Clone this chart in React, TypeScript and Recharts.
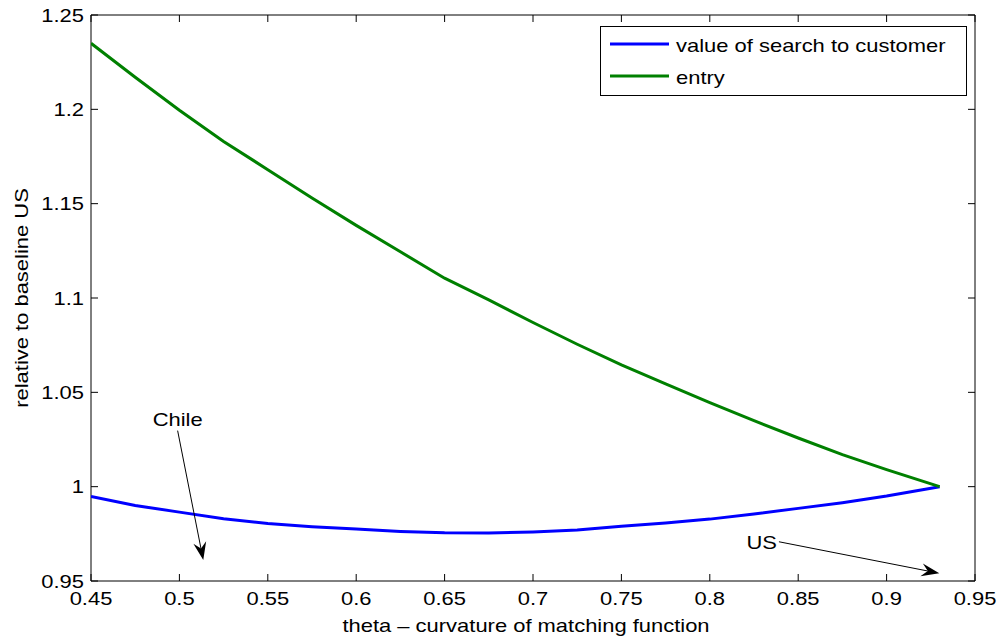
import React from "react";
import {
  LineChart,
  Line,
  XAxis,
  YAxis,
  ReferenceArea,
  ReferenceLine,
  Legend,
} from "recharts";

// theta grid and the two series, relative to the US baseline
const theta = [
  0.45, 0.475, 0.5, 0.525, 0.55, 0.575, 0.6, 0.625, 0.65, 0.675, 0.7, 0.725,
  0.75, 0.775, 0.8, 0.825, 0.85, 0.875, 0.9, 0.93,
];
const searchValue = [
  0.9948, 0.99, 0.9865, 0.983, 0.9805, 0.9788, 0.9775, 0.9763, 0.9756, 0.9755,
  0.976, 0.977, 0.979, 0.9808, 0.9828, 0.9855, 0.9885, 0.9915, 0.995, 1.0,
];
const entryValue = [
  1.235, 1.217, 1.1995, 1.183, 1.168, 1.153, 1.1385, 1.1245, 1.1105, 1.099,
  1.087, 1.0755, 1.0645, 1.0545, 1.0445, 1.035, 1.0258, 1.017, 1.009, 1.0,
];
const seriesNames = ["value of search to customer", "entry"];

const xTicks = [0.45, 0.5, 0.55, 0.6, 0.65, 0.7, 0.75, 0.8, 0.85, 0.9, 0.95];
const yTicks = [0.95, 1, 1.05, 1.1, 1.15, 1.2, 1.25];

// annotation arrows: label, tail, head
const chileArrow = { label: "Chile", from: [0.499, 1.0297], to: [0.5135, 0.9611] };
const usArrow = { label: "US", from: [0.8391, 0.9708], to: [0.9298, 0.9541] };

const data = theta.map((t, i) => ({
  theta: t,
  search: searchValue[i],
  entry: entryValue[i],
}));

const FONT = "'Liberation Sans', Arial, Helvetica, sans-serif";
const FONT_SIZE = 18;
const WIDEN = 1.22;
const PLOT_TOP = 15;
const PLOT_RIGHT = 975;
const TICK_LEN = 7;

function Txt({
  x,
  y,
  anchor = "start",
  rotate = 0,
  size = FONT_SIZE,
  children,
}: any) {
  const rot = rotate ? ` rotate(${rotate})` : "";
  return (
    <text
      transform={`translate(${x},${y})${rot} scale(${WIDEN},1)`}
      textAnchor={anchor}
      fontFamily={FONT}
      fontSize={size}
      fill="#000"
    >
      {children}
    </text>
  );
}

function XTick(props: any) {
  const { x, y, payload } = props;
  return (
    <g>
      <line x1={x} y1={y} x2={x} y2={y - TICK_LEN} stroke="#000" />
      <line x1={x} y1={PLOT_TOP} x2={x} y2={PLOT_TOP + TICK_LEN} stroke="#000" />
      <Txt x={x} y={y + 24} anchor="middle">
        {String(payload.value)}
      </Txt>
    </g>
  );
}

function YTick(props: any) {
  const { x, y, payload } = props;
  return (
    <g>
      <line x1={x} y1={y} x2={x + TICK_LEN} y2={y} stroke="#000" />
      <line x1={PLOT_RIGHT} y1={y} x2={PLOT_RIGHT - TICK_LEN} y2={y} stroke="#000" />
      <Txt x={x - 7} y={y + 6.5} anchor="end">
        {String(payload.value)}
      </Txt>
    </g>
  );
}

function Arrow(props: any) {
  const { x1, y1, x2, y2, text, place } = props;
  const dx = x2 - x1;
  const dy = y2 - y1;
  const len = Math.sqrt(dx * dx + dy * dy);
  const ux = dx / len;
  const uy = dy / len;
  const L = 18;
  const W = 6.5;
  const bx = x2 - ux * L;
  const by = y2 - uy * L;
  const nx = x2 - ux * L * 0.65;
  const ny = y2 - uy * L * 0.65;
  const head = [
    [x2, y2],
    [bx - uy * W, by + ux * W],
    [nx, ny],
    [bx + uy * W, by - ux * W],
  ]
    .map((p) => p.join(","))
    .join(" ");
  return (
    <g>
      <line x1={x1} y1={y1} x2={nx} y2={ny} stroke="#000" strokeWidth={1} />
      <polygon points={head} fill="#000" />
      {place === "above" ? (
        <Txt x={x1} y={y1 - 5} anchor="middle">
          {text}
        </Txt>
      ) : (
        <Txt x={x1 - 2} y={y1 + 7} anchor="end">
          {text}
        </Txt>
      )}
    </g>
  );
}

function LegendBox(props: any) {
  const items = [...(props.payload || [])].sort(
    (a: any, b: any) => seriesNames.indexOf(a.value) - seriesNames.indexOf(b.value)
  );
  return (
    <svg width={367} height={70} style={{ display: "block" }}>
      <rect x={0.5} y={0.5} width={366} height={69} fill="#fff" stroke="#000" />
      {items.map((it: any, i: number) => {
        const cy = 18 + i * 32;
        return (
          <g key={it.value}>
            <line x1={10} y1={cy} x2={69} y2={cy} stroke={it.color} strokeWidth={3} />
            <Txt x={76} y={cy + 8}>
              {it.value}
            </Txt>
          </g>
        );
      })}
    </svg>
  );
}

export default function App() {
  return (
    <div style={{ position: "absolute", left: 0, top: 0, background: "#fff" }}>
      <LineChart
        width={1000}
        height={638}
        data={data}
        margin={{ top: 15, right: 25, bottom: 27, left: 41 }}
      >
        <XAxis
          type="number"
          dataKey="theta"
          domain={[0.45, 0.95]}
          ticks={xTicks}
          allowDataOverflow
          height={30}
          axisLine={false}
          tickLine={false}
          tickSize={0}
          tickMargin={0}
          tick={(p: any) => <XTick {...p} />}
          label={{
            content: (p: any) => {
              const vb = p.viewBox;
              return (
                <Txt x={vb.x + vb.width / 2 - 7} y={vb.y + 51} anchor="middle">
                  theta – curvature of matching function
                </Txt>
              );
            },
          }}
        />
        <YAxis
          type="number"
          domain={[0.95, 1.25]}
          ticks={yTicks}
          allowDataOverflow
          width={50}
          axisLine={false}
          tickLine={false}
          tickSize={0}
          tickMargin={0}
          tick={(p: any) => <YTick {...p} />}
          label={{
            content: (p: any) => {
              const vb = p.viewBox;
              return (
                <Txt x={vb.x - 13} y={vb.y + vb.height / 2} anchor="middle" rotate={-90}>
                  relative to baseline US
                </Txt>
              );
            },
          }}
        />
        <Line
          dataKey="search"
          name={seriesNames[0]}
          stroke="#0000ff"
          strokeWidth={3}
          dot={false}
          isAnimationActive={false}
        />
        <Line
          dataKey="entry"
          name={seriesNames[1]}
          stroke="#008000"
          strokeWidth={3}
          dot={false}
          isAnimationActive={false}
        />
        <ReferenceArea
          x1={0.45}
          x2={0.95}
          y1={0.95}
          y2={1.25}
          fill="none"
          stroke="#000"
          strokeWidth={1}
        />
        {[chileArrow, usArrow].map((a, i) => (
          <ReferenceLine
            key={a.label}
            segment={[
              { x: a.from[0], y: a.from[1] },
              { x: a.to[0], y: a.to[1] },
            ]}
            shape={(p: any) => (
              <Arrow {...p} text={a.label} place={i === 0 ? "above" : "left"} />
            )}
          />
        ))}
        <Legend
          layout="vertical"
          align="center"
          verticalAlign="middle"
          wrapperStyle={{ position: "absolute", left: 600, top: 26, width: 367, height: 70 }}
          content={(p: any) => <LegendBox {...p} />}
        />
      </LineChart>
    </div>
  );
}
